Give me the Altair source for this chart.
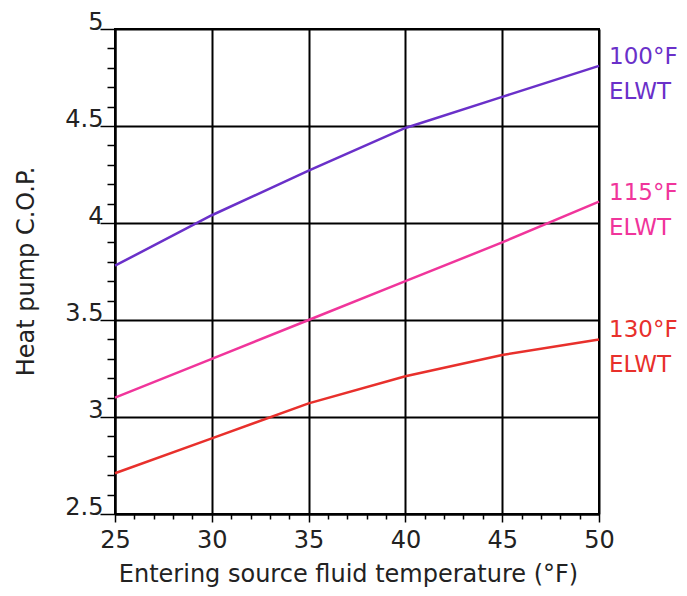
import altair as alt
import pandas as pd

# Data
temps = [25, 30, 35, 40, 45, 50]
cop_100 = [3.78, 4.04, 4.27, 4.49, 4.65, 4.81]
cop_115 = [3.10, 3.30, 3.50, 3.70, 3.90, 4.11]
cop_130 = [2.71, 2.89, 3.07, 3.21, 3.32, 3.40]
series_names = ["100°F\nELWT", "115°F\nELWT", "130°F\nELWT"]
series_colors = ["#6a30c9", "#f0359b", "#e8302c"]

x_major_ticks = [25, 30, 35, 40, 45, 50]
y_major_ticks = [2.5, 3, 3.5, 4, 4.5, 5]
x_ticks = list(range(25, 51))
y_ticks = [round(2.5 + 0.1 * i, 1) for i in range(26)]

rows = []
for name, vals in zip(series_names, [cop_100, cop_115, cop_130]):
    for t, v in zip(temps, vals):
        rows.append({"series": name, "temp": t, "cop": v})
df = pd.DataFrame(rows)

end_df = pd.DataFrame({
    "series": series_names,
    "temp": [temps[-1]] * 3,
    "cop": [cop_100[-1], cop_115[-1], cop_130[-1]],
})

FONT = "DejaVu Sans"
color_scale = alt.Scale(domain=series_names, range=series_colors)

x_major = "indexof([" + ",".join(str(v) for v in x_major_ticks) + "], datum.value) >= 0"
y_major = "indexof([" + ",".join(str(v) for v in y_major_ticks) + "], datum.value) >= 0"

x_enc = alt.X(
    "temp:Q",
    scale=alt.Scale(domain=[25, 50], nice=False, zero=False),
    axis=alt.Axis(
        title="Entering source fluid temperature (°F)",
        values=x_ticks,
        tickCount=100,
        labelExpr=f"{x_major} ? format(datum.value, '~g') : ''",
        labelOverlap=False,
        tickSize={"condition": {"test": x_major, "value": 8}, "value": 5},
        gridOpacity={"condition": {"test": x_major, "value": 1}, "value": 0},
        grid=True,
        gridColor="black",
        gridWidth=2,
        domainColor="black",
        domainWidth=2,
        tickColor="black",
        tickWidth=1.5,
        labelFont=FONT,
        labelFontSize=24,
        labelColor="#222222",
        labelPadding=6,
        labelFlush=False,
        titleFont=FONT,
        titleFontSize=24,
        titleFontWeight="normal",
        titleColor="#222222",
        titleBaseline="alphabetic",
        titleX=233,
        titleY=67,
    ),
)

y_enc = alt.Y(
    "cop:Q",
    scale=alt.Scale(domain=[2.5, 5], nice=False, zero=False),
    axis=alt.Axis(
        title="Heat pump C.O.P.",
        values=y_ticks,
        tickCount=100,
        labelExpr=f"{y_major} ? format(datum.value, '~g') : ''",
        labelOverlap=False,
        tickSize={"condition": {"test": y_major, "value": 15}, "value": 8},
        gridOpacity={"condition": {"test": y_major, "value": 1}, "value": 0},
        grid=True,
        gridColor="black",
        gridWidth=2,
        domainColor="black",
        domainWidth=2,
        tickColor="black",
        tickWidth=1.5,
        labelFont=FONT,
        labelFontSize=24,
        labelColor="#222222",
        labelBaseline="alphabetic",
        labelPadding=-3,
        labelFlush=False,
        titleFont=FONT,
        titleFontSize=24,
        titleFontWeight="normal",
        titleColor="#222222",
        titleBaseline="alphabetic",
        titleAngle=-90,
        titleX=-82,
        titleY=242,
    ),
)

lines = alt.Chart(df).mark_line(strokeWidth=2.5).encode(
    x=x_enc,
    y=y_enc,
    color=alt.Color("series:N", scale=color_scale, legend=None),
    detail="series:N",
)

labels = alt.Chart(end_df).mark_text(
    align="left",
    baseline="alphabetic",
    dx=10,
    dy=-2,
    font=FONT,
    fontSize=23,
    lineBreak="\n",
    lineHeight=35,
).encode(
    x="temp:Q",
    y="cop:Q",
    text="series:N",
    color=alt.Color("series:N", scale=color_scale, legend=None),
)

chart = alt.layer(lines, labels).properties(
    width=484,
    height=485,
    background="white",
    autosize=alt.AutoSizeParams(type="none"),
    padding={"left": 107, "top": 21, "right": 80, "bottom": 74},
).configure_view(stroke="black", strokeWidth=2)

chart.save("out.html", embed_options={"renderer": "svg", "actions": False})
